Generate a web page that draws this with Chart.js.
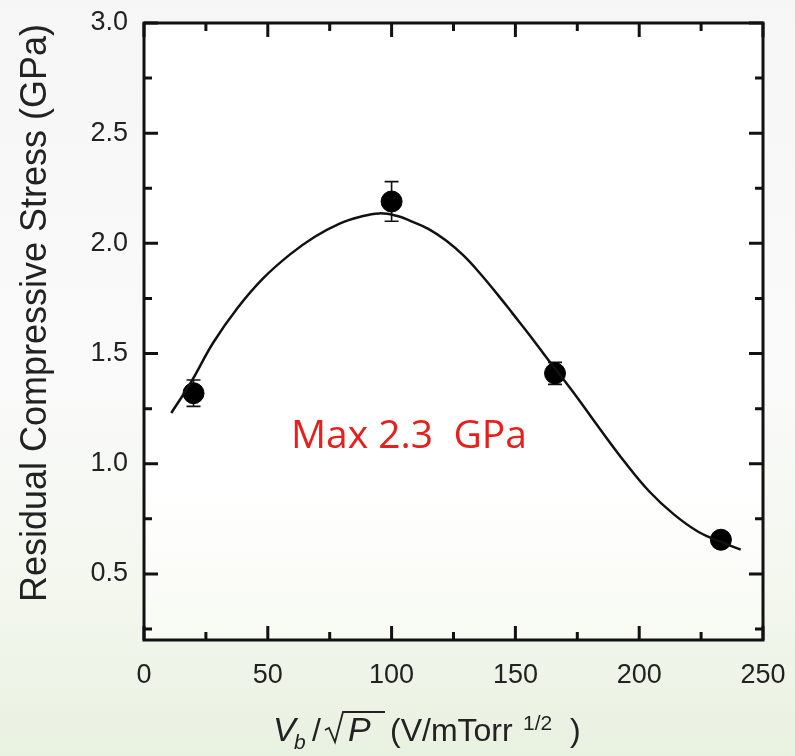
<!DOCTYPE html>
<html>
<head>
<meta charset="utf-8">
<script src="https://cdn.jsdelivr.net/npm/chart.js@4.4.0/dist/chart.umd.min.js"></script>
<style>
  html, body { margin: 0; padding: 0; }
  body {
    width: 795px; height: 756px; overflow: hidden;
    background: linear-gradient(to bottom, #f6f6f6 0%, #fafafa 50%, #f3f7ee 78%, #e9f1e1 100%);
  }
  #wrap { position: relative; width: 795px; height: 756px; }
</style>
</head>
<body>
<div id="wrap"><canvas id="stressChart"></canvas></div>
<script>
// measured points
const pointX = [20, 100, 166, 233];
const pointY = [1.32, 2.19, 1.41, 0.655];
const pointErr = [0.06, 0.09, 0.05, 0.02];

// fitted curve
const curveX = [11, 19, 28, 38, 48, 59, 69, 79, 87, 95, 102, 108, 115, 122, 129, 136, 143, 149, 156, 163, 173, 184, 194, 204, 214, 224, 233, 241];
const curveY = [1.23, 1.37, 1.55, 1.71, 1.84, 1.95, 2.03, 2.09, 2.12, 2.136, 2.125, 2.10, 2.065, 2.013, 1.945, 1.86, 1.765, 1.68, 1.58, 1.475, 1.33, 1.16, 1.01, 0.875, 0.77, 0.69, 0.645, 0.61];

const xMajor = [0, 50, 100, 150, 200, 250];
const xMinor = [25, 75, 125, 175, 225];
const yMajor = [0.5, 1.0, 1.5, 2.0, 2.5, 3.0];
const yMinor = [0.25, 0.75, 1.25, 1.75, 2.25, 2.75];

const ink = '#111';
const fam = '"Liberation Sans", Arial, sans-serif';

// frame, inward ticks, error bars, titles and note
const framePlugin = {
  id: 'frame',
  beforeDraw(chart) {
    const { ctx, chartArea: a } = chart;
    ctx.save();
    const g = ctx.createLinearGradient(0, a.top, 0, a.bottom);
    g.addColorStop(0, '#ffffff');
    g.addColorStop(0.75, '#ffffff');
    g.addColorStop(1, '#f8faf3');
    ctx.fillStyle = g;
    ctx.fillRect(a.left, a.top, a.right - a.left, a.bottom - a.top);
    ctx.restore();
  },
  beforeDatasetsDraw(chart) {
    const { ctx } = chart;
    const x = chart.scales.x, y = chart.scales.y;
    ctx.save();
    ctx.strokeStyle = ink;
    ctx.lineWidth = 1.6;
    pointX.forEach((v, i) => {
      const px = x.getPixelForValue(v);
      const top = y.getPixelForValue(pointY[i] + pointErr[i]);
      const bot = y.getPixelForValue(pointY[i] - pointErr[i]);
      ctx.beginPath();
      ctx.moveTo(px, top); ctx.lineTo(px, bot);
      ctx.moveTo(px - 7, top); ctx.lineTo(px + 7, top);
      ctx.moveTo(px - 7, bot); ctx.lineTo(px + 7, bot);
      ctx.stroke();
    });
    ctx.restore();
  },
  afterDraw(chart) {
    const { ctx, chartArea: a } = chart;
    const x = chart.scales.x, y = chart.scales.y;
    ctx.save();
    ctx.strokeStyle = ink;
    ctx.lineWidth = 3;
    ctx.lineCap = 'butt';
    // inward ticks on all four sides
    ctx.beginPath();
    xMajor.concat(xMinor).forEach(v => {
      const len = xMajor.includes(v) ? 14 : 8;
      const px = x.getPixelForValue(v);
      ctx.moveTo(px, a.bottom); ctx.lineTo(px, a.bottom - len);
      ctx.moveTo(px, a.top); ctx.lineTo(px, a.top + len);
    });
    yMajor.concat(yMinor).forEach(v => {
      const len = yMajor.includes(v) ? 14 : 8;
      const py = y.getPixelForValue(v);
      ctx.moveTo(a.left, py); ctx.lineTo(a.left + len, py);
      ctx.moveTo(a.right, py); ctx.lineTo(a.right - len, py);
    });
    ctx.stroke();
    ctx.strokeRect(a.left, a.top, a.right - a.left, a.bottom - a.top);

    // annotation
    ctx.fillStyle = '#e8201c';
    ctx.font = '39px "Open Sans", "Noto Sans", sans-serif';
    ctx.textAlign = 'center';
    ctx.textBaseline = 'alphabetic';
    ctx.fillText('Max 2.3  GPa', x.getPixelForValue(107), y.getPixelForValue(1.071));

    // y axis title
    ctx.fillStyle = '#222';
    ctx.save();
    ctx.translate(36, 313);
    ctx.rotate(-Math.PI / 2);
    ctx.font = '36px ' + fam;
    ctx.textAlign = 'center';
    ctx.textBaseline = 'middle';
    ctx.fillText('Residual Compressive Stress (GPa)', 0, 0);
    ctx.restore();

    // x axis title: V_b / sqrt(P)  (V/mTorr^1/2)
    ctx.strokeStyle = '#222';
    ctx.textAlign = 'left';
    ctx.textBaseline = 'alphabetic';
    const base = 741;
    const put = (t, font, px, dy) => {
      ctx.font = font;
      ctx.fillText(t, px, base + (dy || 0));
    };
    put('V', 'italic 34px ' + fam, 273);
    put('b', 'italic 21px ' + fam, 294, 8);
    put('/', '32px ' + fam, 312);
    ctx.lineWidth = 1.8;
    ctx.beginPath();
    ctx.moveTo(325, 730);
    ctx.lineTo(329, 728);
    ctx.lineTo(335, 742);
    ctx.lineTo(343, 712);
    ctx.lineTo(385, 712);
    ctx.stroke();
    put('P', 'italic 34px ' + fam, 348);
    put('(V/mTorr', '32px ' + fam, 390);
    put('1/2', '21px ' + fam, 523, -11);
    put(')', '32px ' + fam, 570);
    ctx.restore();
  }
};

new Chart(document.getElementById('stressChart'), {
  type: 'line',
  data: {
    datasets: [
      {
        label: 'Fit',
        data: curveX.map((v, i) => ({ x: v, y: curveY[i] })),
        borderColor: ink,
        borderWidth: 2.5,
        pointRadius: 0,
        tension: 0.4,
        fill: false,
      },
      {
        label: 'Measured',
        type: 'scatter',
        data: pointX.map((v, i) => ({ x: v, y: pointY[i] })),
        backgroundColor: '#000',
        borderColor: '#000',
        pointRadius: 10.5,
        pointHoverRadius: 10.5,
      }
    ]
  },
  options: {
    responsive: true,
    maintainAspectRatio: false,
    animation: false,
    layout: { padding: { left: 0, top: 23, right: 32, bottom: 0 } },
    plugins: {
      legend: { display: false },
      tooltip: { enabled: false },
    },
    scales: {
      x: {
        type: 'linear',
        min: 0,
        max: 250,
        afterBuildTicks: s => { s.ticks = xMajor.map(v => ({ value: v })); },
        afterFit: s => { s.height = 116; s.paddingLeft = 0; s.paddingRight = 0; },
        grid: { display: false, drawTicks: false },
        border: { display: false },
        ticks: {
          color: '#222',
          padding: 19,
          maxRotation: 0,
          font: { size: 27, family: fam },
        },
      },
      y: {
        type: 'linear',
        min: 0.2,
        max: 3.0,
        afterBuildTicks: s => { s.ticks = yMajor.map(v => ({ value: v })); },
        afterFit: s => { s.width = 144; s.paddingTop = 0; s.paddingBottom = 0; },
        grid: { display: false, drawTicks: false },
        border: { display: false },
        ticks: {
          color: '#222',
          padding: 16,
          callback: v => v.toFixed(1),
          font: { size: 27, family: fam },
        },
      }
    }
  },
  plugins: [framePlugin]
});
</script>
</body>
</html>
